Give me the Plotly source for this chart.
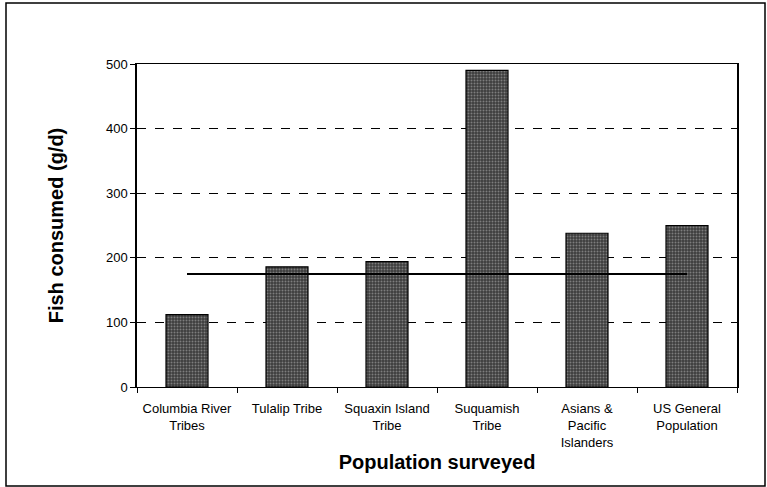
import plotly.graph_objects as go

categories = ["Columbia River<br>Tribes", "Tulalip Tribe", "Squaxin Island<br>Tribe",
              "Suquamish<br>Tribe", "Asians &<br>Pacific<br>Islanders", "US General<br>Population"]
fish_consumed = [112, 186, 194, 490, 238, 250]
reference_level = 175
y_ticks = [0, 100, 200, 300, 400, 500]

fig = go.Figure()
fig.add_trace(go.Bar(
    x=categories, y=fish_consumed,
    marker=dict(color="#3c3c3c", line=dict(color="black", width=1.2),
                pattern=dict(shape=".", fgcolor="#bdbdbd", bgcolor="#3c3c3c",
                             size=3, solidity=0.35)),
    width=0.42, showlegend=False,
))
fig.add_trace(go.Scatter(
    x=[categories[0], categories[-1]], y=[reference_level, reference_level],
    mode="lines", line=dict(color="black", width=2), showlegend=False,
))

fig.update_layout(
    width=767, height=487,
    margin=dict(l=137, r=30, t=64, b=100),
    paper_bgcolor="white", plot_bgcolor="white",
    font=dict(family="Liberation Sans, Arial, sans-serif", color="black", size=13),
    shapes=[dict(type="rect", xref="paper", yref="paper",
                 x0=-131/600, x1=1 + 28/600, y0=-99/323, y1=1 + 61/323,
                 line=dict(color="black", width=1.5), layer="below")],
)
fig.update_xaxes(
    showline=True, linecolor="black", linewidth=1.2, mirror=True,
    ticks="outside", tickson="boundaries", ticklen=5, tickcolor="black",
    tickfont=dict(size=13), showgrid=False, ticklabelstandoff=9,
    title=dict(text="<b>Population surveyed</b>", font=dict(size=20), standoff=6),
)
fig.update_yaxes(
    range=[0, 500], tickvals=y_ticks, ticks="outside", ticklen=5, tickcolor="black",
    showline=True, linecolor="black", linewidth=1.5, mirror=True,
    showgrid=True, gridcolor="black", gridwidth=1, griddash="dash",
    zeroline=False, tickfont=dict(size=13),
    title=dict(text="<b>Fish consumed (g/d)</b>", font=dict(size=20), standoff=37),
)
fig.write_html("out.html", config={"displayModeBar": False},
               post_script="document.body.style.margin='0';")
